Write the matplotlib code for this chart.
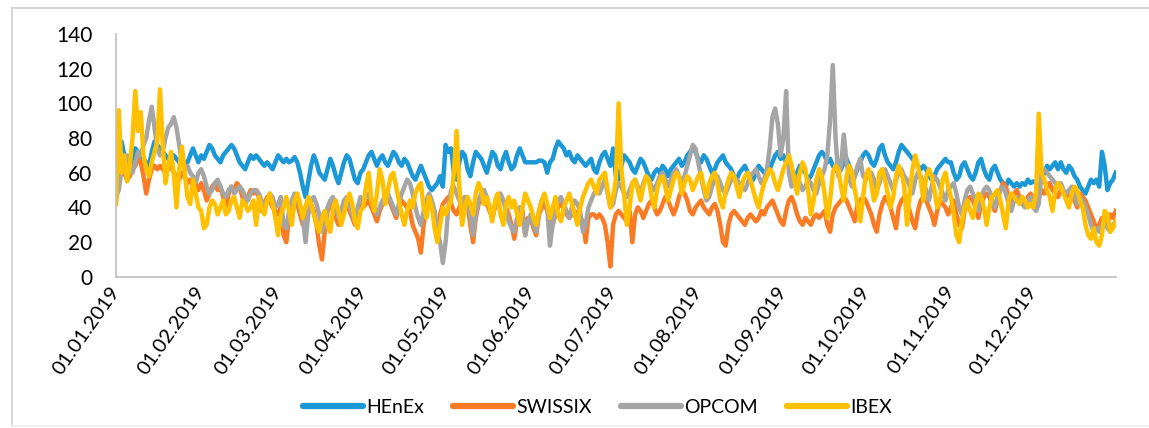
#!/usr/bin/env python3
"""Daily day-ahead prices 2019: HEnEx, SWISSIX, OPCOM, IBEX."""

import matplotlib

matplotlib.use("Agg")
import matplotlib.dates as mdates
import matplotlib.pyplot as plt
from matplotlib.lines import Line2D
import pandas as pd

plt.rcParams["font.family"] = ["Lato", "DejaVu Sans"]

# daily values, one list per month
henex = [
    [66, 72, 78, 70, 64, 62, 68, 74, 72, 70, 68, 66, 64, 72, 78, 76, 74, 72, 70, 68, 66, 70, 68, 66, 68, 64, 66, 70, 74, 70, 66],
    [70, 68, 72, 76, 74, 70, 68, 66, 70, 72, 74, 76, 74, 70, 66, 64, 62, 66, 70, 68, 70, 68, 66, 64, 66, 64, 62, 66],
    [70, 68, 66, 68, 66, 67, 69, 66, 60, 52, 46, 55, 64, 70, 66, 60, 58, 56, 62, 68, 64, 58, 54, 60, 66, 70, 68, 62, 56, 54, 60],
    [62, 66, 70, 72, 68, 64, 68, 70, 66, 64, 68, 72, 70, 66, 64, 68, 66, 62, 58, 56, 60, 64, 60, 56, 52, 50, 52, 54, 58, 52],
    [76, 72, 74, 60, 56, 66, 72, 70, 62, 58, 66, 72, 70, 68, 64, 60, 66, 72, 70, 64, 62, 68, 72, 66, 62, 64, 70, 74, 70, 66, 66],
    [66, 66, 66, 67, 67, 66, 60, 66, 68, 74, 78, 76, 74, 70, 72, 68, 66, 70, 68, 66, 64, 66, 68, 62, 60, 66, 70, 72, 68, 64],
    [74, 58, 56, 64, 70, 68, 66, 62, 60, 64, 68, 66, 62, 58, 56, 60, 62, 60, 64, 62, 58, 62, 64, 66, 68, 64, 66, 70, 72, 74, 72],
    [68, 66, 70, 68, 64, 60, 62, 66, 68, 70, 66, 64, 62, 58, 56, 60, 62, 64, 60, 58, 56, 60, 64, 62, 60, 58, 62, 66, 70, 72, 68],
    [70, 66, 64, 62, 58, 60, 64, 62, 60, 56, 58, 62, 66, 70, 72, 70, 66, 68, 64, 62, 60, 62, 66, 68, 64, 60, 58, 62, 66, 70],
    [72, 70, 66, 64, 68, 74, 76, 70, 66, 64, 62, 66, 72, 76, 74, 72, 70, 68, 66, 64, 62, 64, 62, 58, 56, 58, 62, 64, 66, 68, 66],
    [66, 60, 56, 58, 64, 66, 62, 58, 56, 60, 66, 68, 62, 58, 56, 62, 64, 60, 56, 54, 52, 56, 54, 52, 54, 52, 54, 53, 56, 54],
    [55, 54, 52, 56, 60, 64, 62, 64, 66, 62, 66, 62, 60, 64, 62, 58, 56, 52, 50, 48, 52, 56, 54, 56, 52, 72, 64, 50, 54, 56, 60],
]
swissix = [
    [44, 58, 62, 60, 56, 58, 62, 64, 68, 66, 58, 48, 56, 62, 64, 62, 64, 62, 60, 62, 64, 60, 58, 56, 60, 58, 54, 56, 52, 54, 50],
    [54, 50, 44, 48, 52, 54, 50, 52, 46, 40, 48, 52, 50, 54, 52, 46, 42, 46, 50, 48, 50, 46, 38, 42, 46, 44, 40, 38],
    [36, 40, 24, 20, 34, 40, 44, 42, 36, 30, 40, 44, 42, 38, 30, 18, 10, 26, 38, 40, 42, 34, 30, 36, 40, 42, 38, 34, 30, 36, 42],
    [40, 42, 44, 40, 36, 32, 38, 42, 44, 46, 42, 38, 34, 40, 44, 42, 40, 38, 30, 26, 22, 14, 30, 40, 44, 40, 34, 24, 36, 42],
    [44, 46, 42, 38, 36, 40, 44, 46, 42, 30, 20, 34, 42, 44, 46, 42, 38, 34, 40, 44, 46, 44, 40, 36, 30, 22, 32, 40, 38, 24, 34],
    [34, 28, 24, 36, 40, 42, 38, 34, 30, 36, 40, 42, 40, 36, 34, 36, 38, 36, 34, 32, 20, 34, 36, 36, 34, 36, 34, 30, 20, 6],
    [30, 36, 38, 36, 34, 32, 38, 20, 36, 40, 38, 34, 38, 42, 44, 40, 36, 38, 42, 46, 44, 40, 36, 40, 46, 50, 48, 44, 38, 36, 40],
    [42, 44, 40, 38, 36, 40, 42, 38, 30, 20, 18, 30, 36, 38, 36, 34, 32, 30, 34, 36, 34, 32, 34, 38, 36, 40, 42, 44, 40, 36, 32],
    [30, 38, 44, 46, 42, 36, 32, 30, 34, 32, 30, 34, 36, 34, 36, 38, 30, 26, 36, 40, 42, 44, 46, 44, 40, 36, 32, 42, 44, 46],
    [44, 40, 36, 30, 26, 36, 42, 46, 44, 40, 34, 28, 40, 44, 46, 42, 38, 32, 28, 38, 44, 46, 44, 40, 36, 30, 38, 44, 42, 40, 36],
    [40, 44, 36, 30, 28, 38, 44, 46, 44, 40, 34, 42, 46, 48, 46, 42, 38, 44, 50, 54, 52, 46, 40, 48, 50, 46, 44, 42, 46, 48],
    [44, 42, 46, 50, 48, 52, 54, 50, 48, 46, 50, 48, 46, 48, 50, 44, 40, 48, 46, 44, 40, 36, 32, 28, 30, 34, 32, 30, 36, 34, 38],
]
opcom = [
    [46, 50, 62, 66, 70, 64, 60, 66, 72, 70, 76, 80, 90, 98, 86, 74, 70, 72, 80, 86, 88, 92, 86, 76, 66, 62, 64, 60, 58, 54, 60],
    [62, 58, 52, 48, 50, 54, 56, 52, 48, 46, 50, 52, 48, 50, 52, 50, 46, 44, 48, 50, 50, 48, 44, 40, 44, 48, 46, 40],
    [42, 46, 30, 28, 38, 44, 48, 46, 40, 34, 20, 36, 44, 46, 42, 36, 26, 30, 40, 44, 46, 40, 34, 38, 44, 46, 42, 36, 32, 40, 46],
    [44, 46, 48, 44, 40, 36, 40, 44, 46, 48, 44, 40, 36, 42, 48, 52, 56, 54, 48, 40, 34, 30, 38, 44, 48, 44, 38, 26, 20, 8],
    [20, 40, 50, 52, 48, 44, 40, 46, 44, 36, 24, 36, 44, 48, 50, 46, 40, 34, 42, 46, 48, 44, 38, 32, 28, 26, 34, 40, 36, 24, 32],
    [36, 30, 26, 38, 44, 46, 40, 18, 30, 40, 44, 46, 42, 38, 34, 40, 44, 42, 38, 26, 30, 40, 44, 48, 50, 48, 52, 56, 48, 40],
    [42, 50, 54, 52, 48, 46, 50, 54, 56, 52, 48, 54, 58, 56, 52, 50, 54, 58, 60, 56, 52, 56, 60, 62, 58, 54, 58, 64, 70, 76, 74],
    [66, 58, 50, 44, 46, 52, 56, 58, 54, 50, 48, 52, 56, 58, 56, 54, 52, 50, 54, 58, 60, 62, 58, 54, 56, 62, 74, 92, 97, 88, 70],
    [80, 107, 60, 52, 56, 58, 54, 50, 52, 56, 54, 50, 48, 54, 58, 62, 70, 90, 122, 80, 58, 64, 82, 66, 56, 52, 58, 64, 68, 58],
    [56, 58, 60, 56, 50, 54, 60, 62, 58, 54, 50, 56, 60, 62, 58, 56, 52, 48, 56, 60, 58, 54, 50, 44, 52, 58, 56, 52, 48, 44, 50],
    [52, 54, 48, 40, 36, 44, 50, 52, 48, 44, 38, 46, 50, 52, 50, 44, 40, 46, 50, 52, 48, 42, 38, 44, 46, 44, 42, 40, 44, 46],
    [40, 38, 42, 60, 62, 60, 58, 56, 54, 52, 54, 50, 48, 50, 52, 48, 42, 46, 44, 40, 36, 30, 26, 28, 26, 30, 34, 28, 26, 30, 32],
]
ibex = [
    [42, 96, 60, 70, 55, 64, 80, 107, 84, 95, 70, 62, 58, 66, 72, 78, 108, 76, 54, 64, 72, 60, 40, 62, 75, 60, 46, 42, 56, 48, 40],
    [38, 28, 30, 40, 44, 42, 36, 40, 44, 36, 38, 44, 46, 40, 34, 44, 42, 38, 40, 44, 30, 46, 40, 36, 44, 48, 42, 34],
    [24, 36, 40, 46, 38, 30, 44, 48, 42, 34, 40, 46, 42, 36, 30, 26, 34, 38, 30, 26, 40, 44, 38, 30, 36, 44, 48, 42, 32, 28, 38],
    [40, 52, 60, 44, 38, 48, 62, 56, 42, 50, 58, 60, 52, 44, 36, 30, 38, 44, 40, 48, 52, 54, 40, 34, 46, 40, 28, 20, 30, 40],
    [36, 40, 44, 60, 84, 52, 30, 40, 46, 42, 36, 48, 54, 50, 42, 46, 40, 32, 44, 48, 36, 30, 42, 46, 40, 44, 36, 30, 40, 48, 44],
    [40, 34, 30, 38, 44, 48, 42, 34, 40, 46, 36, 32, 40, 44, 48, 42, 36, 30, 40, 46, 50, 54, 56, 52, 48, 56, 58, 60, 50, 40],
    [46, 56, 100, 62, 48, 30, 40, 54, 56, 50, 44, 52, 58, 56, 46, 40, 50, 56, 58, 52, 44, 50, 56, 60, 58, 48, 54, 58, 56, 50, 54],
    [58, 60, 52, 46, 54, 58, 60, 54, 44, 40, 50, 56, 60, 58, 52, 46, 54, 58, 60, 56, 50, 44, 40, 48, 54, 58, 62, 60, 54, 50, 56],
    [62, 66, 70, 64, 56, 48, 60, 66, 62, 50, 36, 44, 56, 62, 58, 48, 34, 44, 60, 64, 62, 52, 44, 58, 64, 60, 50, 42, 32, 46],
    [58, 62, 54, 44, 48, 60, 62, 56, 48, 40, 46, 58, 64, 60, 52, 30, 48, 62, 70, 64, 56, 44, 58, 62, 58, 50, 40, 44, 56, 60, 52],
    [46, 36, 24, 20, 32, 40, 44, 38, 34, 42, 48, 46, 40, 30, 40, 46, 48, 50, 44, 36, 28, 44, 48, 46, 44, 42, 46, 44, 40, 42],
    [40, 48, 94, 60, 56, 50, 46, 38, 50, 54, 52, 48, 44, 40, 48, 52, 50, 44, 40, 30, 24, 22, 28, 20, 18, 24, 38, 36, 26, 28, 32],
]

names = ["HEnEx", "SWISSIX", "OPCOM", "IBEX"]
colors = ["#1b98d5", "#f97b25", "#a5a5a5", "#ffc000"]


def flatten(months):
    return [v for m in months for v in m]


series = [flatten(s) for s in (henex, swissix, opcom, ibex)]
lengths = [len(s) for s in series]
if any(n != 365 for n in lengths):
    raise ValueError(f"series lengths {lengths}")

df = pd.DataFrame(dict(zip(names, series)),
                  index=pd.date_range("2019-01-01", periods=365, freq="D"))

fig = plt.figure(figsize=(11.49, 4.28), dpi=100)
ax = fig.add_axes([0.101, 0.353, 0.870, 0.568])

for name, color in zip(names, colors):
    ax.plot(df.index, df[name], color=color, lw=3.2, label=name, solid_joinstyle="round")

ax.set_ylim(0, 140)
ax.set_yticks(range(0, 141, 20))
ax.set_xlim(df.index[0], df.index[-1])
ax.set_xticks(pd.date_range("2019-01-01", "2019-12-01", freq="MS"))
ax.xaxis.set_major_formatter(mdates.DateFormatter("%d.%m.%Y"))
ax.tick_params(axis="both", length=0, colors="#000000")
ax.tick_params(axis="y", pad=17, labelsize=15)
ax.tick_params(axis="x", pad=8, labelsize=14.5)
for lbl in ax.get_xticklabels():
    lbl.set_rotation(55)
    lbl.set_ha("right")
    lbl.set_va("center")
    lbl.set_rotation_mode("anchor")

for side in ("top", "right"):
    ax.spines[side].set_visible(False)
for side in ("left", "bottom"):
    ax.spines[side].set_color("#bfbfbf")
    ax.spines[side].set_linewidth(1.2)

ax.legend(loc="center", bbox_to_anchor=(0.52, 0.048), bbox_transform=fig.transFigure,
          ncol=4, frameon=False, fontsize=14, handlelength=3.1, handletextpad=0.15,
          columnspacing=1.5, handleheight=0.7)
for h in ax.get_legend().get_lines():
    h.set_linewidth(4.5)
    h.set_solid_capstyle("round")

# chart-area outline (left, top and faint bottom edge)
W, H = 1149, 428
fig.add_artist(Line2D([12 / W, 12 / W], [1 - 8 / H, 1 - 426 / H], color="#d0d0d0", lw=1.2))
fig.add_artist(Line2D([12 / W, 1.0], [1 - 8 / H, 1 - 8 / H], color="#d0d0d0", lw=1.2))
fig.add_artist(Line2D([12 / W, 1.0], [1 - 426 / H, 1 - 426 / H], color="#eeeeee", lw=1.2))

fig.savefig("out.png", dpi=100)
